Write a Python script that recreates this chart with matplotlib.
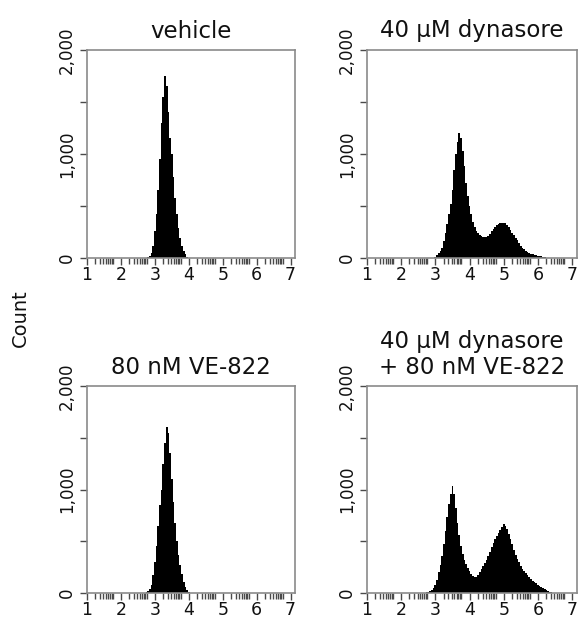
import numpy as np
import matplotlib
matplotlib.use("Agg")
import matplotlib.pyplot as plt

plt.rcParams['font.family'] = ['DejaVu Sans']

# bin width on the log (decade) axis
bin_w = 0.05

titles = ['vehicle', '40 µM dynasore', '80 nM VE-822', '40 µM dynasore\n+ 80 nM VE-822']

# first bin centre for each panel
vehicle_start = 2.80
vehicle_counts = [5, 20, 50, 120, 260, 420, 650, 950, 1300, 1550, 1750, 1650, 1400,
                  1150, 1000, 780, 580, 420, 290, 190, 120, 70, 35, 12, 3]

dyn_start = 2.95
dyn_counts = [3, 10, 25, 45, 70, 100, 160, 240, 330, 420, 520, 650, 850, 1000, 1120,
              1200, 1150, 1030, 880, 720, 600, 500, 420, 350, 300, 260, 240, 225, 215,
              205, 200, 200, 215, 235, 260, 280, 300, 315, 330, 335, 340, 340, 335,
              320, 295, 270, 245, 220, 195, 170, 145, 120, 100, 85, 70, 58, 48, 40,
              34, 30, 28, 24, 20, 16, 12, 8, 4, 2]

ve_start = 2.75
ve_counts = [5, 15, 35, 80, 170, 300, 450, 650, 850, 1000, 1250, 1450, 1600, 1550,
             1350, 1100, 880, 680, 500, 370, 270, 180, 110, 60, 25, 5]

combo_start = 2.75
combo_counts = [5, 10, 18, 30, 50, 80, 130, 200, 270, 360, 470, 600, 730, 860, 960,
                1030, 960, 820, 680, 560, 450, 380, 320, 280, 240, 210, 185, 165, 155,
                150, 170, 200, 230, 260, 290, 320, 360, 400, 440, 480, 520, 550, 580,
                610, 640, 665, 650, 615, 570, 520, 470, 420, 370, 330, 295, 265, 235,
                210, 190, 170, 150, 135, 120, 105, 92, 80, 68, 56, 45, 36, 28, 20, 12,
                6, 2]

panels = [(vehicle_start, vehicle_counts), (dyn_start, dyn_counts),
          (ve_start, ve_counts), (combo_start, combo_counts)]

x_major = [1, 2, 3, 4, 5, 6, 7]
y_major = [0, 1000, 2000]
y_major_labels = ['0', '1,000', '2,000']
y_minor = [500, 1500]

W, H = 578, 619
fig = plt.figure(figsize=(W / 100, H / 100), dpi=100)

# axes boxes in pixels: left, top, right, bottom
boxes = [(87, 50, 295, 258), (367, 50, 576.5, 258),
         (87, 386, 295, 593), (367, 386, 576.5, 593)]

spine_col = '#8a8a8a'
tick_col = '#4a4a4a'
text_col = '#111111'

minor_x = []
for n in range(1, 7):
    for k in range(2, 10):
        minor_x.append(n + 0.8 * np.log10(k))

for (l, t, r, b), title, (start, counts) in zip(boxes, titles, panels):
    ax = fig.add_axes([l / W, 1 - b / H, (r - l) / W, (b - t) / H])
    counts = np.array(counts)
    edges = start - bin_w / 2 + bin_w * np.arange(len(counts) + 1)
    ax.stairs(counts, edges, fill=True, color='black', lw=0)

    ax.set_xlim(1, 7.13)
    ax.set_ylim(0, 2000)
    ax.set_xticks(x_major)
    ax.set_xticks(minor_x, minor=True)
    ax.set_yticks(y_major)
    ax.set_yticklabels(y_major_labels)
    ax.set_yticks(y_minor, minor=True)

    for s in ax.spines.values():
        s.set_color(spine_col)
        s.set_linewidth(1.2)

    ax.tick_params(axis='x', which='major', length=5, width=1, color=tick_col,
                   labelsize=12.5, labelcolor=text_col, pad=1)
    ax.tick_params(axis='x', which='minor', length=4.5, width=1, color=tick_col)
    ax.tick_params(axis='y', which='major', length=5, width=1, color=tick_col,
                   labelsize=12, labelcolor=text_col, pad=3, labelrotation=90)
    ax.tick_params(axis='y', which='minor', length=5, width=1, color=tick_col)
    for lab in ax.get_yticklabels():
        lab.set_va('center')

    ax.set_title(title, fontsize=16.5, color=text_col, pad=9, linespacing=1.15)

fig.text(20 / W, 1 - 318 / H, 'Count', rotation=90, fontsize=14,
         ha='center', va='center', color=text_col)

fig.savefig('out.png', dpi=100)
